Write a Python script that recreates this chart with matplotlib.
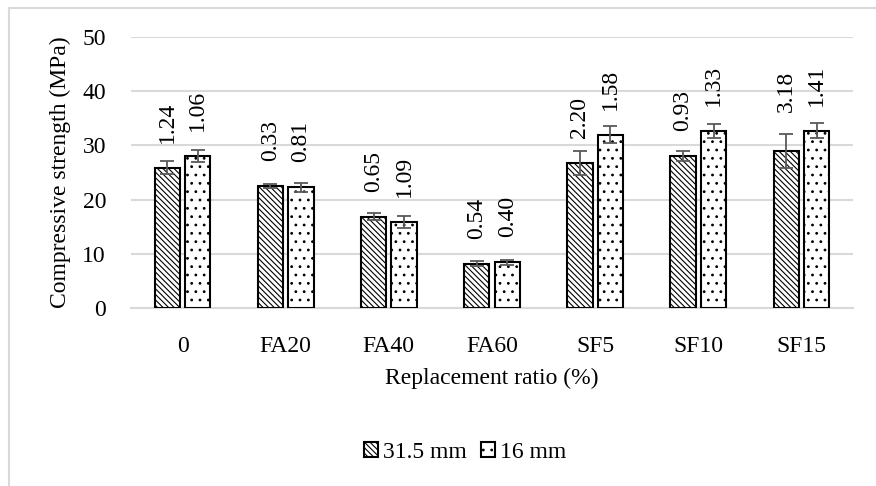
import numpy as np
import matplotlib
matplotlib.use('Agg')
import matplotlib.pyplot as plt
from matplotlib.lines import Line2D

# data
categories = ['0', 'FA20', 'FA40', 'FA60', 'SF5', 'SF10', 'SF15']
strength_315 = [25.9, 22.5, 16.8, 8.2, 26.8, 28.0, 29.0]
strength_16 = [28.0, 22.3, 15.9, 8.4, 32.0, 32.7, 32.7]
err_315 = [1.24, 0.33, 0.65, 0.54, 2.20, 0.93, 3.18]
err_16 = [1.06, 0.81, 1.09, 0.40, 1.58, 1.33, 1.41]
series_labels = ['31.5 mm', '16 mm']
y_ticks = [0, 10, 20, 30, 40, 50]

plt.rcParams['font.family'] = ['Liberation Serif', 'DejaVu Serif']
plt.rcParams['hatch.linewidth'] = 0.8
FS = 17
GRID = '#d9d9d9'
ERRC = '#595959'

fig = plt.figure(figsize=(8.76, 4.86), dpi=100)
ax = fig.add_axes([131 / 876, 1 - 308 / 486, (853 - 131) / 876, (308 - 37) / 486])

x = np.arange(len(categories))
w = 0.245
off = 0.148

b1 = ax.bar(x - off, strength_315, w, color='white', edgecolor='black',
            linewidth=1.5, hatch='\\\\\\\\\\\\', zorder=3)
b2 = ax.bar(x + off, strength_16, w, color='white', edgecolor='black',
            linewidth=1.5, hatch='..', zorder=3)
ax.errorbar(x - off, strength_315, yerr=err_315, fmt='none', ecolor=ERRC,
            elinewidth=1.3, capsize=5, capthick=1.3, zorder=4)
ax.errorbar(x + off, strength_16, yerr=err_16, fmt='none', ecolor=ERRC,
            elinewidth=1.3, capsize=5, capthick=1.3, zorder=4)

# data labels (the error values), rotated, above the bar tops
for bars, errs in ((b1, err_315), (b2, err_16)):
    for rect, e in zip(bars, errs):
        pad = 18
        if e == 3.18:
            pad = 28
        ax.annotate('%.2f' % e, (rect.get_x() + rect.get_width() / 2, rect.get_height()),
                    xytext=(0, pad), textcoords='offset points', rotation=90,
                    ha='center', va='bottom', fontsize=FS, zorder=5)

ax.set_xlim(-0.5, len(categories) - 0.5)
ax.set_ylim(0, 50)
ax.set_yticks(y_ticks)
ax.set_xticks(x)
ax.set_xticklabels(categories)
ax.tick_params(axis='both', length=0, labelsize=FS)
ax.tick_params(axis='x', pad=20)
ax.tick_params(axis='y', pad=18)
ax.yaxis.grid(True, color=GRID, linewidth=1.5, zorder=0)
ax.set_axisbelow(True)
for s in ['top', 'right', 'left']:
    ax.spines[s].set_visible(False)
ax.spines['bottom'].set_color(GRID)
ax.spines['bottom'].set_linewidth(1.5)

ax.set_ylabel('Compressive strength (MPa)', fontsize=FS, labelpad=8)
ax.set_xlabel('Replacement ratio (%)', fontsize=FS, labelpad=8)

leg = fig.legend([b1[0], b2[0]], series_labels, loc='center', bbox_to_anchor=(465 / 876, 1 - 452 / 486),
                 ncol=2, frameon=False, fontsize=FS, handlelength=0.6, handleheight=0.6,
                 handletextpad=0.2, columnspacing=0.6)

# outer chart frame (cropped on the right and bottom)
fig.add_artist(Line2D([8.5 / 876, 8.5 / 876], [0, 1 - 8.5 / 486], transform=fig.transFigure,
                      color=GRID, linewidth=1.5))
fig.add_artist(Line2D([8.5 / 876, 1], [1 - 8.5 / 486, 1 - 8.5 / 486], transform=fig.transFigure,
                      color=GRID, linewidth=1.5))

fig.savefig('out.png', dpi=100)
